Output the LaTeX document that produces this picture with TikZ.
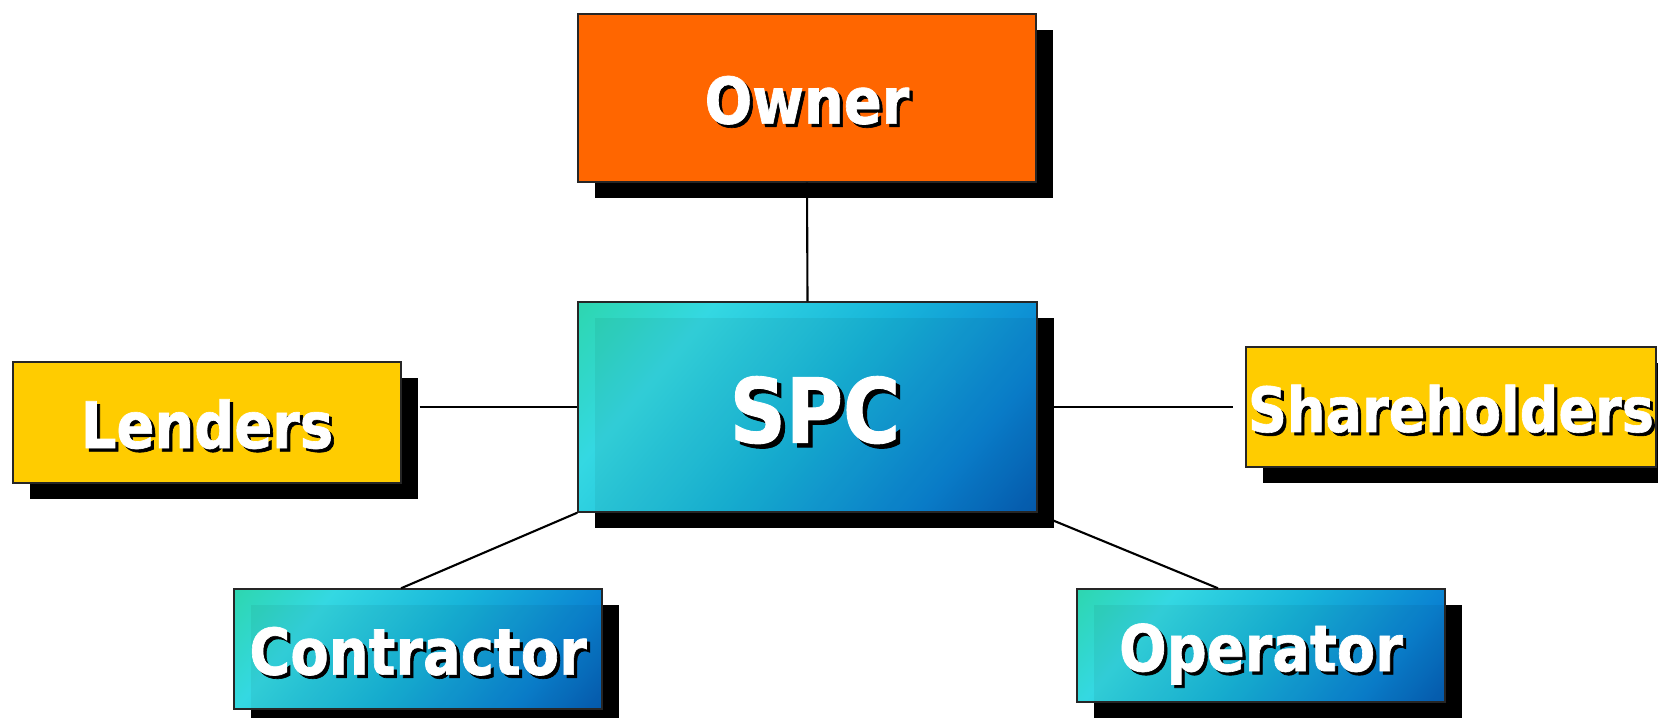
\documentclass[tikz,border=0pt]{standalone}
\usepackage{fontspec}
\usepackage{tikz}
\usetikzlibrary{shadows,calc}

\newfontfamily\boxfont{DejaVu Sans Bold}[FakeStretch=0.87, FakeBold=1]

\definecolor{ownerorange}{HTML}{FF6600}
\definecolor{partyyellow}{HTML}{FFCC00}
\definecolor{gradA}{HTML}{2CD6A6}
\definecolor{gradB}{HTML}{34D8E2}
\definecolor{gradC}{HTML}{18B6DA}
\definecolor{gradD}{HTML}{0A82D2}
\definecolor{gradE}{HTML}{0450A8}

\pgfdeclarehorizontalshading{spcshade}{100bp}{color(0bp)=(gradA); color(12bp)=(gradA); color(30bp)=(gradB); color(50bp)=(gradC); color(72bp)=(gradD); color(90bp)=(gradE); color(100bp)=(gradE)}

% white label with a small black drop
\newcommand{\shtxt}[1]{\rlap{\kern.05em\raisebox{-.05em}{\color{black}#1}}#1}

\begin{document}
\begin{tikzpicture}[
		box/.style={draw=black!85, line width=0.8pt, text=white, inner sep=0pt,
			font=\boxfont\fontsize{36.6}{40}\selectfont,
			text height=29.2pt, text depth=0pt,
			general shadow={fill=black, shadow xshift=0.33cm, shadow yshift=-0.33cm}},
		bluebox/.style={box, shade, shading=spcshade, shading angle=-40,
			path picture={\fill[black, fill opacity=0.05] ([shift={(0.34,-0.32)}]path picture bounding box.north west) rectangle (path picture bounding box.south east);}},
		link/.style={line width=1.2pt}
	]
		\useasboundingbox (0,0) rectangle (33.16,-14.36);

		% Parties
		\node[box, fill=ownerorange, minimum width=9.16cm, minimum height=3.36cm] (owner) at (16.14,-1.96) {\shtxt{Owner}};
		\node[bluebox, minimum width=9.18cm, minimum height=4.2cm,
			font=\boxfont\fontsize{51}{54}\selectfont, text height=40.6pt] (spc) at (16.15,-8.14) {\hspace{0.3cm}\shtxt{SPC}};
		\node[box, fill=partyyellow, minimum width=7.76cm, minimum height=2.42cm] (lenders) at (4.14,-8.45) {\shtxt{Lenders}};
		\node[box, fill=partyyellow, minimum width=8.2cm, minimum height=2.4cm,
			font=\boxfont\fontsize{35.4}{40}\selectfont, text height=28.4pt] (holders) at (29.02,-8.14) {\shtxt{Shareholders}};
		\node[bluebox, minimum width=7.36cm, minimum height=2.4cm] (contractor) at (8.36,-12.98) {\shtxt{Contractor}};
		\node[bluebox, minimum width=7.36cm, minimum height=2.26cm] (operator) at (25.22,-12.91) {\shtxt{Operator}};

		% Links
		\draw[link] (owner.south) -- (spc.north);
		\draw[link] ($(lenders.east |- spc.west)+(0.36,0)$) -- (spc.west);
		\draw[link] ($(spc.east)+(0.32,0)$) -- ($(holders.west)+(-0.24,0)$);
		\draw[link] (spc.south west) -- ($(contractor.north)+(-0.34,0)$);
		\draw[link] ($(spc.south east)+(0.32,-0.16)$) -- ($(operator.north)+(-0.86,0)$);
	\end{tikzpicture}
\end{document}
